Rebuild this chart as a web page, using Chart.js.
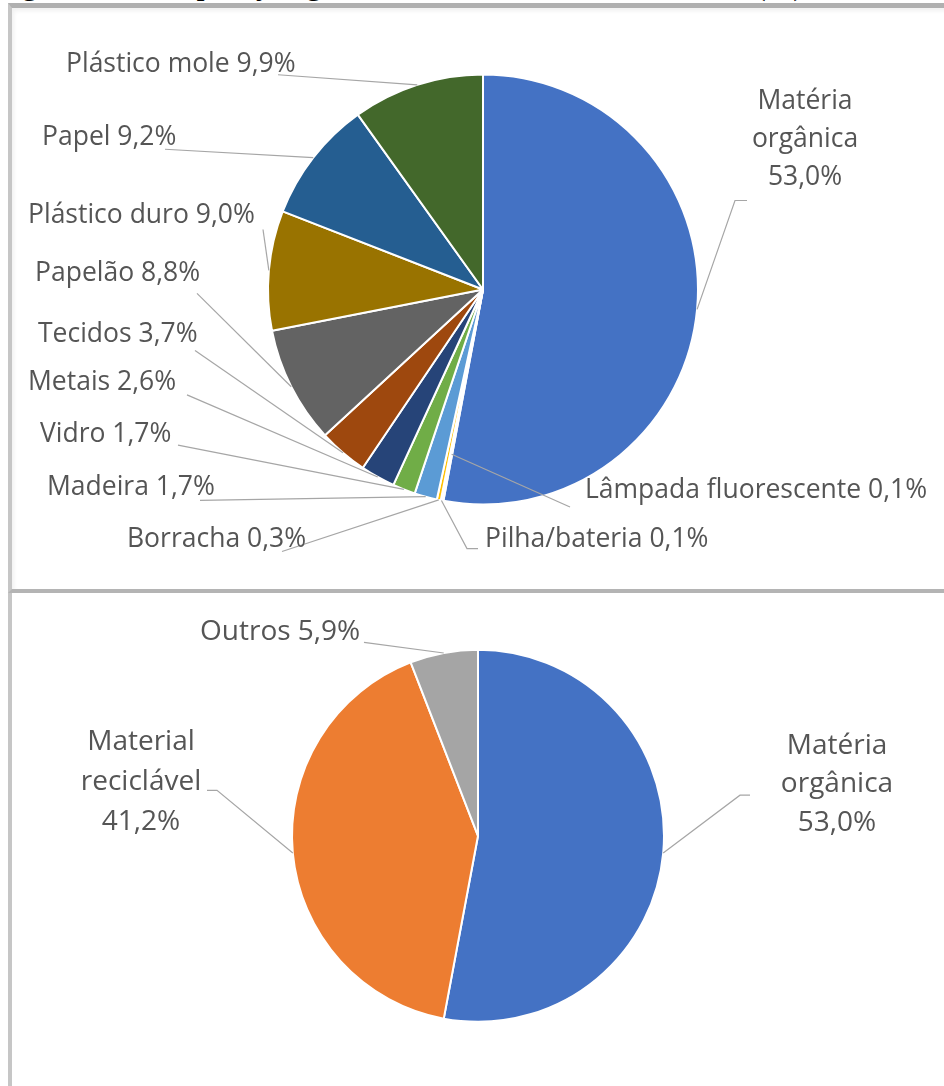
<!DOCTYPE html>
<html lang="pt">
<head>
<meta charset="utf-8">
<title>Composição gravimétrica</title>
<script src="https://cdn.jsdelivr.net/npm/chart.js@4"></script>
<style>
  html, body { margin: 0; padding: 0; background: #fff; }
  body { position: relative; width: 944px; height: 1086px; overflow: hidden; }
  .caption {
    position: absolute; left: -6px; top: -33px; white-space: nowrap;
    font: 33px/33px "Liberation Serif", serif; color: #000;
  }
  .frame { position: absolute; box-sizing: border-box; background: #fff; }
  .frame.top {
    left: 8px; top: 3px; width: 1000px; height: 590px;
    border-top: 5px solid #b0b0b0; border-left: 4px solid #c6c6c6; border-bottom: 4px solid #b4b4b4;
    box-shadow: inset 2px 3px 4px rgba(0,0,0,0.06);
  }
  .frame.bottom {
    left: 8px; top: 593px; width: 1000px; height: 600px;
    border-left: 4px solid #c6c6c6;
  }
  canvas { position: absolute; }
  #topPie { left: 12px; top: 9px; width: 932px; height: 579px; }
  #bottomPie { left: 12px; top: 595px; width: 932px; height: 491px; }
</style>
</head>
<body>
<div class="caption">Figura 2 - Composição gravimétrica dos resíduos sólidos (%)</div>
<div class="frame top"></div>
<div class="frame bottom"></div>
<canvas id="topPie" width="932" height="560"></canvas>
<canvas id="bottomPie" width="932" height="475"></canvas>
<script>
// DATA
const detailLabels = ['Matéria orgânica', 'Lâmpada fluorescente', 'Pilha/bateria', 'Borracha', 'Madeira',
  'Vidro', 'Metais', 'Tecidos', 'Papelão', 'Plástico duro', 'Papel', 'Plástico mole'];
const detailValues = [53.0, 0.1, 0.1, 0.3, 1.7, 1.7, 2.6, 3.7, 8.8, 9.0, 9.2, 9.9];

const groupLabels = ['Matéria orgânica', 'Material reciclável', 'Outros'];
const groupValues = [53.0, 41.2, 5.9];

// office palette
const detailColors = ['#4472C4', '#ED7D31', '#A5A5A5', '#FFC000', '#5B9BD5', '#70AD47',
  '#264478', '#9E480E', '#636363', '#997300', '#255E91', '#43682B'];
const groupColors = ['#4472C4', '#ED7D31', '#A5A5A5'];

// canvases are drawn a bit taller than their buffer
const SY = 1.034;

// where each label sits on the page (x, baseline y) and the bends of its leader line
const detailSpots = [
  { x: 805, y: 112, lh: 39.5, align: 'center', wrap: true, leader: [[747, 207], [735, 207]] },
  { x: 585, y: 515, leader: [[570, 524]], reach: 0.78 },
  { x: 485, y: 565, leader: [[478, 567], [467, 567]] },
  { x: 127, y: 565, leader: [[282, 570]] },
  { x: 47, y: 512, leader: [[200, 517]] },
  { x: 40, y: 457, leader: [[178, 460]] },
  { x: 28, y: 403, leader: [[187, 408]] },
  { x: 38, y: 353, leader: [[195, 362]] },
  { x: 35, y: 290, leader: [[197, 303]] },
  { x: 28, y: 230, leader: [[263, 237]] },
  { x: 42, y: 150, leader: [[165, 154]] },
  { x: 66, y: 74, leader: [[278, 77]] }
];
const groupSpots = [
  { x: 837, y: 759, lh: 40, align: 'center', wrap: true, leader: [[750, 802], [740, 802]] },
  { x: 141, y: 755, lh: 41.5, align: 'center', wrap: true, leader: [[207, 797], [217, 797]] },
  { x: 200, y: 642, leader: [[364, 644]] }
];

function pct(v) {
  return v.toFixed(1).replace('.', ',') + '%';
}

// labels with leader lines to the middle of each slice
function leaderLabels(spots, left, top, fontSize) {
  return {
    id: 'leaderLabels',
    afterDatasetsDraw(chart) {
      const ctx = chart.ctx;
      const arcs = chart.getDatasetMeta(0).data;
      const values = chart.data.datasets[0].data;
      ctx.save();
      arcs.forEach((arc, i) => {
        const spot = spots[i];
        const p = arc.getProps(['x', 'y', 'startAngle', 'endAngle', 'outerRadius'], true);
        const mid = (p.startAngle + p.endAngle) / 2;
        const r = p.outerRadius * (spot.reach || 1);

        ctx.beginPath();
        spot.leader.forEach(([px, py], k) => {
          const lx = px - left, ly = (py - top) / SY;
          if (k) ctx.lineTo(lx, ly); else ctx.moveTo(lx, ly);
        });
        ctx.lineTo(p.x + Math.cos(mid) * r, p.y + Math.sin(mid) * r);
        ctx.strokeStyle = '#a6a6a6';
        ctx.lineWidth = 1.2;
        ctx.stroke();

        const name = chart.data.labels[i];
        const lines = spot.wrap ? [...name.split(' '), pct(values[i])] : [name + ' ' + pct(values[i])];
        ctx.font = fontSize + 'px "Open Sans"';
        ctx.fillStyle = '#555555';
        ctx.textAlign = spot.align || 'left';
        ctx.textBaseline = 'alphabetic';
        lines.forEach((t, k) => {
          ctx.fillText(t, spot.x - left, (spot.y + k * (spot.lh || 0) - top) / SY);
        });
      });
      ctx.restore();
    }
  };
}

// padding that puts a pie of radius r at (cx, cy) inside a w x h canvas
function padFor(cx, cy, r, w, h) {
  const half = r + 1;
  return { left: cx - half, right: w - cx - half, top: cy - half, bottom: h - cy - half };
}

function pie(id, labels, values, colors, pad, plugin) {
  return new Chart(document.getElementById(id), {
    type: 'pie',
    data: {
      labels: labels,
      datasets: [{
        data: values,
        backgroundColor: colors,
        borderColor: '#ffffff',
        borderWidth: 2
      }]
    },
    options: {
      responsive: false,
      animation: false,
      layout: { padding: pad },
      plugins: { legend: { display: false }, tooltip: { enabled: false } }
    },
    plugins: [plugin]
  });
}

pie('topPie', detailLabels, detailValues, detailColors,
  padFor(471, 280.5, 215, 932, 560), leaderLabels(detailSpots, 12, 9, 26.5));
pie('bottomPie', groupLabels, groupValues, groupColors,
  padFor(466, 240.8, 186, 932, 475), leaderLabels(groupSpots, 12, 595, 28));
</script>
</body>
</html>
